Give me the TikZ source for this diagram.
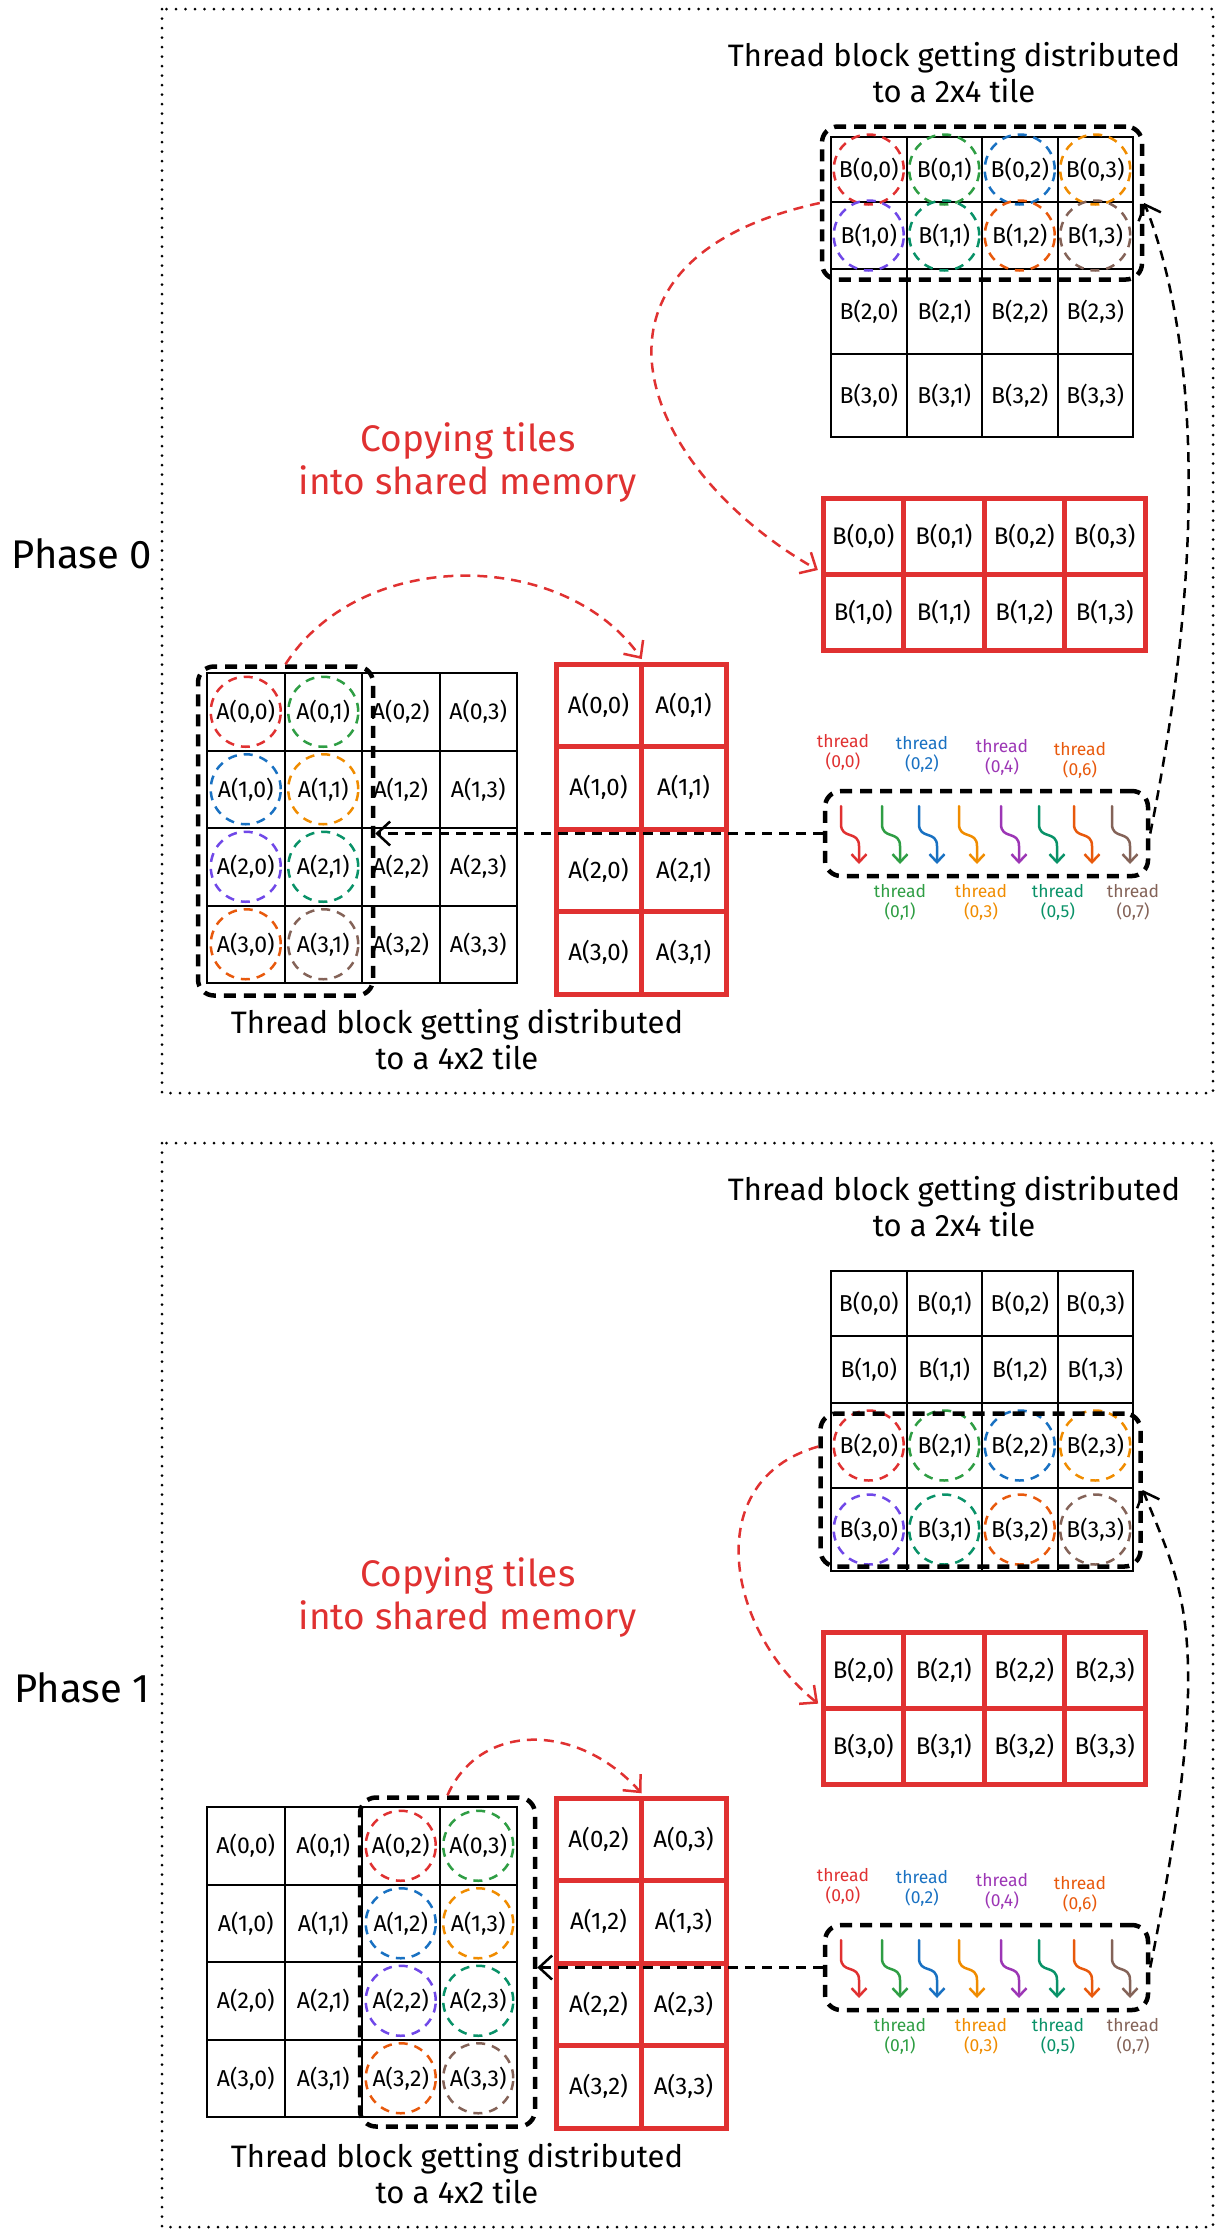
\documentclass[tikz,border=0pt]{standalone}
\usepackage{fontspec}
\setmainfont{Fira Sans}
\usepackage{xcolor}
\usetikzlibrary{positioning, calc, arrows.meta}

\definecolor{exred}{HTML}{E03131}
\definecolor{exgreen}{HTML}{2F9E44}
\definecolor{exblue}{HTML}{1971C2}
\definecolor{exorange}{HTML}{F08C00}
\definecolor{exviolet}{HTML}{7048E8}
\definecolor{exgrape}{HTML}{9C36B5}
\definecolor{exteal}{HTML}{099268}
\definecolor{exrust}{HTML}{E8590C}
\definecolor{exbrown}{HTML}{846358}

\begin{document}
\begin{tikzpicture}[x=1pt, y=-1pt,
    cell/.style={rectangle, draw=black, line width=2pt, inner sep=0pt, font=\fontsize{23}{27}\selectfont},
    smem/.style={rectangle, draw=exred, line width=5pt, inner sep=0pt, font=\fontsize{24}{28}\selectfont},
    blockbox/.style={rectangle, draw=black, line width=4.5pt, dash pattern=on 12pt off 8pt, rounded corners=16pt, inner sep=0pt},
    lane/.style={circle, line width=2.5pt, dash pattern=on 9pt off 7pt, minimum size=70pt, inner sep=0pt},
    copyarrow/.style={draw=exred, line width=2.5pt, dash pattern=on 10pt off 7pt, shorten >=3pt, -{Straight Barb[length=13pt, width=24pt]}},
    maparrow/.style={draw=black, line width=2.5pt, dash pattern=on 10pt off 7pt, -{Straight Barb[length=13pt, width=24pt]}},
    squiggle/.style={line width=2.5pt, line cap=round, -{Straight Barb[length=8pt, width=15pt]}},
    frame/.style={line width=3pt, dash pattern=on 0pt off 9.5pt, line cap=round},
    title/.style={align=center, font=\fontsize{31}{36}\selectfont},
    phase/.style={font=\fontsize{40}{44}\selectfont},
    copynote/.style={align=center, text=exred, font=\fontsize{37}{43}\selectfont},
    tlabel/.style={align=center, font=\fontsize{17.5}{20}\selectfont}]
    \useasboundingbox (0,0) rectangle (1224,2236);

    \foreach \p/\sh/\br/\ac/\bbx/\bby/\abx/\aby in {0/0/0/0/982/203/285.5/831, 1/1134/2/2/980.5/356/447.5/828}{
    \begin{scope}[yshift=-\sh pt]
        % Frame and phase name
        \draw[frame] (162,9) rectangle (1213,1093);
        \node[phase] (phase\p) at (82,554) {Phase \p};

        % Global B
        \node[title] (Btitle\p) at (954,73) {Thread block getting distributed\\to a 2x4 tile};
        \foreach \rw/\yc/\h in {0/169.5/65, 1/235.5/67, 2/311.5/85, 3/395.5/83}
            \foreach \cl in {0,...,3}
                \node[cell, minimum width=75.5pt, minimum height=\h pt] (B\p\rw\cl) at ({868.75+75.5*\cl},\yc) {B(\rw,\cl)};

        % Global A
        \node[title] (Atitle\p) at (457,1040) {Thread block getting distributed\\to a 4x2 tile};
        \foreach \rw in {0,...,3}
            \foreach \cl in {0,...,3}
                \node[cell, minimum width=77.5pt, minimum height=77.5pt] (A\p\rw\cl) at ({245.75+77.5*\cl},{711.75+77.5*\rw}) {A(\rw,\cl)};

        % Threads over the cells
        \foreach \k/\col in {0/exred, 1/exgreen, 2/exblue, 3/exorange, 4/exviolet, 5/exteal, 6/exrust, 7/exbrown}{
            \pgfmathtruncatemacro{\rb}{\br+int(\k/4)}
            \pgfmathtruncatemacro{\cb}{mod(\k,4)}
            \pgfmathtruncatemacro{\ra}{int(\k/2)}
            \pgfmathtruncatemacro{\ca}{\ac+mod(\k,2)}
            \node[lane, draw=\col] (hB\p\k) at (B\p\rb\cb) {};
            \node[lane, draw=\col] (hA\p\k) at (A\p\ra\ca) {};
        }
        \node[blockbox, minimum width=320pt, minimum height=153pt] (Bblock\p) at (\bbx,\bby) {};
        \node[blockbox, minimum width=175pt, minimum height=329pt] (Ablock\p) at (\abx,\aby) {};

        % Shared memory tiles
        \node[copynote] (copy\p) at (468,463) {Copying tiles\\into shared memory};
        \foreach \i in {0,1}
            \foreach \cl in {0,...,3}{
                \pgfmathtruncatemacro{\rb}{\br+\i}
                \node[smem, minimum width=80.5pt, minimum height=76pt] (sB\p\i\cl) at ({863.25+80.5*\cl},{536+76*\i}) {B(\rb,\cl)};
            }
        \foreach \rw in {0,...,3}
            \foreach \j in {0,1}{
                \pgfmathtruncatemacro{\ca}{\ac+\j}
                \node[smem, minimum width=85pt, minimum height=82.5pt] (sA\p\rw\j) at ({598.5+85*\j},{705.25+82.5*\rw}) {A(\rw,\ca)};
            }

        % Warp of threads
        \node[blockbox, minimum width=323pt, minimum height=85pt] (warp\p) at (986.5,833.5) {};
        \foreach \x/\col in {841/exred, 882/exgreen, 919/exblue, 959/exorange, 1001/exgrape, 1039/exteal, 1074/exrust, 1112/exbrown}
            \draw[squiggle, draw=\col] (\x,806) -- (\x,824) .. controls (\x,840) and ({\x+18},830) .. ({\x+18},846) -- ({\x+18},864);
        \foreach \k/\x/\y/\col in {0/843/752/exred, 2/922/754/exblue, 4/1002/757/exgrape, 6/1080/760/exrust, 1/900/902/exgreen, 3/981/902/exorange, 5/1058/902/exteal, 7/1133/902/exbrown}
            \node[tlabel, text=\col] (tl\p\k) at (\x,\y) {thread\\(0,\k)};

        % Draw arrows
        \draw[maparrow] (warp\p.west) -- (warp\p.west -| Ablock\p.east);
        \draw[maparrow] (warp\p.east) .. controls +(67,-333) and +(40,100) .. (Bblock\p.east);
    \end{scope}
    }

    % Copy arrows
    \draw[copyarrow] (Ablock0.north) .. controls +(75,-117) and +(-80,-114) .. (sA000.north east);
    \draw[copyarrow] (Bblock0.west) .. controls +(-262,57) and +(-183,-104) .. (sB010.north west);
    \draw[copyarrow] (Ablock1.north) .. controls +(32,-73) and +(-66,-74) .. (sA100.north east);
    \draw[copyarrow] (Bblock1.165) .. controls +(-120,34) and +(-93,-74) .. (sB110.north west);
\end{tikzpicture}
\end{document}
